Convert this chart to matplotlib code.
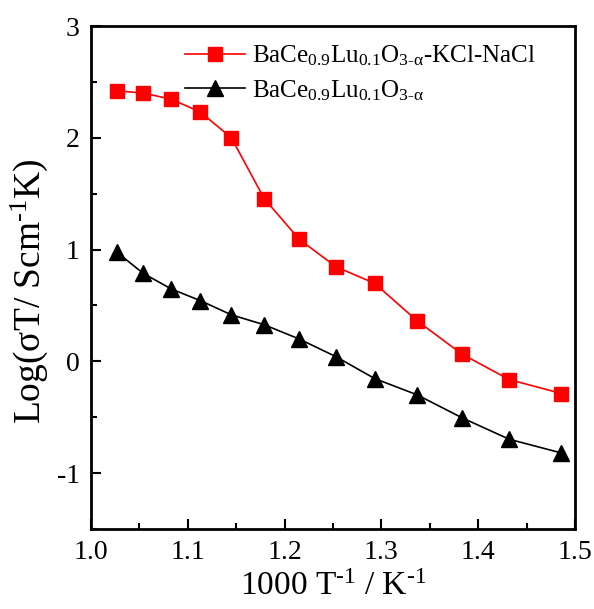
import matplotlib.pyplot as plt
from matplotlib.ticker import MultipleLocator

plt.rcParams['font.family'] = 'Liberation Serif'
plt.rcParams['mathtext.fontset'] = 'custom'
plt.rcParams['mathtext.rm'] = 'Liberation Serif'
plt.rcParams['mathtext.it'] = 'Liberation Serif:italic'

# 1000/T values (same for both samples)
inv_T = [1.027, 1.054, 1.083, 1.113, 1.145, 1.179, 1.215, 1.253,
         1.293, 1.337, 1.383, 1.432, 1.486]

# log(sigma T) for the composite and the pure oxide
log_comp = [2.42, 2.40, 2.345, 2.23, 2.00, 1.455, 1.093, 0.846,
            0.698, 0.362, 0.066, -0.163, -0.288]
log_pure = [0.974, 0.787, 0.647, 0.543, 0.416, 0.327, 0.20, 0.042,
            -0.154, -0.30, -0.504, -0.697, -0.82]

label_comp = r'BaCe$_{\text{0.9}}$Lu$_{\text{0.1}}$O$_{\text{3-α}}$-KCl-NaCl'
label_pure = r'BaCe$_{\text{0.9}}$Lu$_{\text{0.1}}$O$_{\text{3-α}}$'

fig = plt.figure(figsize=(5.94, 6.09), dpi=100)
ax = fig.add_axes([91/594, 1-529/609, 484/594, 503/609])

ax.plot(inv_T, log_comp, '-s', color='red', lw=1.2, ms=9.5, label=label_comp)
ax.plot(inv_T, log_pure, '-^', color='black', lw=1.2, ms=11, label=label_pure)

ax.set_xlim(1.0, 1.5)
ax.set_ylim(-1.5, 3)
ax.xaxis.set_major_locator(MultipleLocator(0.1))
ax.xaxis.set_minor_locator(MultipleLocator(0.05))
ax.yaxis.set_major_locator(MultipleLocator(1))
ax.yaxis.set_minor_locator(MultipleLocator(0.5))
ax.set_yticks([-1, 0, 1, 2, 3])
ax.set_yticklabels(['-1', '0', '1', '2', '3'])

for s in ax.spines.values():
    s.set_linewidth(2)
ax.tick_params(which='both', direction='in', width=1.5, labelsize=20)
ax.tick_params(which='major', length=7, pad=8)
ax.tick_params(which='minor', length=4)

ax.set_xlabel(r'1000 T$^{\text{-1}}$ / K$^{\text{-1}}$', fontsize=24)
ax.xaxis.set_label_coords(0.5, -0.085)
ax.set_ylabel(r'Log(σT/ Scm$^{\text{-1}}$K)', fontsize=27)
ax.yaxis.set_label_coords(-0.085, 0.473)

ax.legend(loc='upper left', bbox_to_anchor=(0.147, 1.010), frameon=False,
          fontsize=18, handlelength=2.4, handletextpad=0.3, labelspacing=0.4)

fig.savefig('out.png', dpi=100)
